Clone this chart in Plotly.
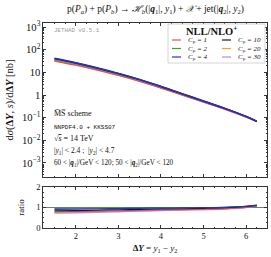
import plotly.graph_objects as go

# ---------------- data ----------------
dY = [1.5, 2.0, 2.5, 3.0, 3.5, 4.0, 4.5, 5.0, 5.5, 6.0, 6.25]

labels = ["C<sub>μ</sub> = 1", "C<sub>μ</sub> = 2", "C<sub>μ</sub> = 4",
          "C<sub>μ</sub> = 10", "C<sub>μ</sub> = 20", "C<sub>μ</sub> = 30"]
colors = ["#e5534b", "#3aa13a", "#2b2bdc", "#1a1a1a", "#ff9b21", "#a88fd6"]

xsec_c1 = [31.9, 20.8, 12.7, 7.4, 4.02, 2.04, 1.00, 0.483, 0.236, 0.107, 0.067]
xsec_c2 = [38.0, 24.5, 14.8, 8.5, 4.57, 2.29, 1.10, 0.525, 0.251, 0.112, 0.069]
xsec_c4 = [41.8, 26.7, 16.0, 9.1, 4.84, 2.40, 1.155, 0.546, 0.259, 0.114, 0.070]
xsec_c10 = [40.3, 25.8, 15.5, 8.9, 4.78, 2.38, 1.13, 0.535, 0.256, 0.113, 0.069]
xsec_c20 = [33.1, 21.6, 13.2, 7.6, 4.11, 2.08, 1.02, 0.494, 0.238, 0.108, 0.067]
xsec_c30 = [34.2, 22.3, 13.5, 7.8, 4.25, 2.15, 1.045, 0.504, 0.243, 0.109, 0.068]

ratio_c1 = [0.78, 0.80, 0.82, 0.84, 0.86, 0.88, 0.90, 0.92, 0.95, 1.01, 1.07]
ratio_c2 = [0.96, 0.97, 0.98, 0.99, 0.99, 1.00, 1.00, 1.00, 1.01, 1.04, 1.08]
ratio_c4 = [0.91, 0.92, 0.94, 0.95, 0.96, 0.97, 0.98, 0.99, 1.01, 1.06, 1.12]
ratio_c10 = [0.84, 0.85, 0.87, 0.89, 0.91, 0.93, 0.94, 0.96, 0.99, 1.05, 1.10]
ratio_c20 = [0.77, 0.78, 0.80, 0.82, 0.84, 0.86, 0.87, 0.89, 0.92, 0.99, 1.06]
ratio_c30 = [0.72, 0.74, 0.76, 0.79, 0.82, 0.85, 0.88, 0.90, 0.93, 1.00, 1.07]

xsecs = [xsec_c1, xsec_c2, xsec_c4, xsec_c10, xsec_c20, xsec_c30]
ratios = [ratio_c1, ratio_c2, ratio_c4, ratio_c10, ratio_c20, ratio_c30]

x_ticks = [2, 3, 4, 5, 6]
ratio_ticks = [0, 1, 2]

# ---------------- layout geometry ----------------
W, H = 271, 257
ML, MR, MT, MB = 43, 4, 23, 29
PW = W - ML - MR
PH = H - MT - MB


def px(x):
    return (x - ML) / PW


def py(y):
    return (H - MB - y) / PH


main_dom = [py(177), 1.0]
ratio_dom = [0.0, py(187)]

SERIF = "Liberation Serif, DejaVu Serif, serif"
MONO = "Liberation Mono, DejaVu Sans Mono, monospace"
QV = "<b><i>q</i></b>"

fig = go.Figure()

# draw order: light ones first
order = [4, 5, 0, 1, 3, 2]
for i in order:
    fig.add_trace(go.Scatter(x=dY, y=xsecs[i], mode="lines", xaxis="x", yaxis="y",
                             line=dict(color=colors[i], width=1.4, shape="spline"),
                             showlegend=False))
for i in order:
    fig.add_trace(go.Scatter(x=dY, y=ratios[i], mode="lines", xaxis="x2", yaxis="y2",
                             line=dict(color=colors[i], width=1.2, shape="spline"),
                             showlegend=False))

axis_common = dict(showline=True, linecolor="#333", linewidth=0.8, mirror="allticks",
                   ticks="inside", ticklen=3, tickwidth=0.7, tickcolor="#333",
                   showgrid=False, zeroline=False, automargin=False,
                   tickfont=dict(family=SERIF, size=8.5, color="#111"))

xr = [1.23, 6.49]
fig.update_layout(
    template="none",
    width=W, height=H,
    margin=dict(l=ML, r=MR, t=MT, b=MB),
    paper_bgcolor="white", plot_bgcolor="white",
    showlegend=False,
    xaxis=dict(domain=[0, 1], anchor="y", range=xr, showticklabels=False,
               tickvals=x_ticks,
               minor=dict(ticks="inside", ticklen=1.5, dtick=0.25, tick0=0, tickcolor="#333"),
               **axis_common),
    yaxis=dict(domain=main_dom, anchor="x", type="log", range=[-3.62, 3.18],
               dtick=1, exponentformat="power", showexponent="all",
               minor=dict(ticks="inside", ticklen=1.5, tickcolor="#333"),
               title=dict(text="d<i>σ</i>(<b>Δ</b><b><i>Y</i></b>, <i>s</i>)/d<b>Δ</b><b><i>Y</i></b> [nb]",
                          font=dict(family=SERIF, size=10.5, color="#111"), standoff=6),
               **axis_common),
    xaxis2=dict(domain=[0, 1], anchor="y2", range=xr, tickvals=x_ticks,
                minor=dict(ticks="inside", ticklen=1.5, dtick=0.25, tick0=0, tickcolor="#333"),
                title=dict(text="<b>Δ</b><b><i>Y</i></b> = <i>y</i><sub>1</sub> − <i>y</i><sub>2</sub>",
                           font=dict(family=SERIF, size=9, color="#111"), standoff=4),
                **axis_common),
    yaxis2=dict(domain=ratio_dom, anchor="x2", range=[0, 2], tickvals=ratio_ticks,
                minor=dict(ticks="inside", ticklen=1.5, dtick=0.25, tickcolor="#333"),
                title=dict(text="ratio", font=dict(family=SERIF, size=9, color="#111"),
                           standoff=10),
                **axis_common),
)

shapes = []
annotations = []

# reference line at ratio = 1
shapes.append(dict(type="line", xref="x2 domain", yref="y2", x0=0, x1=1, y0=1, y1=1,
                   line=dict(color="#555", width=0.8), layer="below"))

# title
annotations.append(dict(
    text="p(<i>P<sub>a</sub></i>) + p(<i>P<sub>b</sub></i>) → <i>ℋ<sub>b</sub></i>(|" + QV +
         "<sub>1</sub>|, <i>y</i><sub>1</sub>) + <i>𝒳</i> + jet(|" + QV +
         "<sub>2</sub>|, <i>y</i><sub>2</sub>)",
    xref="paper", yref="paper", x=px(155), y=py(10), xanchor="center", yanchor="middle",
    showarrow=False, font=dict(family=SERIF, size=9.5, color="#111")))

# legend box
shapes.append(dict(type="rect", xref="paper", yref="paper",
                   x0=px(168), x1=px(265), y0=py(63), y1=py(24),
                   line=dict(color="#cccccc", width=0.8), fillcolor="white", layer="above"))
annotations.append(dict(text="<b>NLL/NLO<sup>+</sup></b>", xref="paper", yref="paper",
                        x=px(211), y=py(30), xanchor="center", yanchor="middle", showarrow=False,
                        font=dict(family=SERIF, size=10.5, color="#111")))
leg_pos = [(0, 0), (0, 1), (0, 2), (1, 0), (1, 1), (1, 2)]
col_x = [172, 222]
row_y = [40, 48.5, 57]
for i, (c, r) in enumerate(leg_pos):
    x0 = col_x[c]
    yy = row_y[r]
    shapes.append(dict(type="line", xref="paper", yref="paper", x0=px(x0), x1=px(x0 + 9),
                       y0=py(yy), y1=py(yy), line=dict(color=colors[i], width=1.2), layer="above"))
    annotations.append(dict(text="<i>" + labels[i].replace("<sub>", "</i><sub>").replace("</sub>", "</sub><i>") + "</i>",
                            xref="paper", yref="paper", x=px(x0 + 14), y=py(yy),
                            xanchor="left", yanchor="middle", showarrow=False,
                            font=dict(family=SERIF, size=7, color="#111")))

# in-plot texts
annotations.append(dict(text="JETHAD v0.5.1", xref="paper", yref="paper", x=px(52), y=py(30),
                        xanchor="left", yanchor="middle", showarrow=False,
                        font=dict(family=MONO, size=5.8, color="#999")))
info = [
    ("M̅S̅ scheme", SERIF, 8, 114),
    ("NNPDF4.0 + KKSS07", MONO, 6, 127),
    ("√<span style='text-decoration:overline'><i>s</i></span> = 14 TeV", SERIF, 8, 138),
    ("|<i>y</i><sub>1</sub>| < 2.4 ;  |<i>y</i><sub>2</sub>| < 4.7", SERIF, 7.5, 151),
    ("60 < |" + QV + "<sub>1</sub>|/GeV < 120; 50 < |" + QV + "<sub>2</sub>|/GeV < 120", SERIF, 7.2, 163),
]
for txt, fam, sz, yy in info:
    annotations.append(dict(text=txt, xref="paper", yref="paper", x=px(52), y=py(yy),
                            xanchor="left", yanchor="middle", showarrow=False,
                            font=dict(family=fam, size=sz, color="#111")))

fig.update_layout(shapes=shapes, annotations=annotations)
fig.write_html("out.html", config={"displayModeBar": False},
               post_script="document.body.style.margin='0';")
